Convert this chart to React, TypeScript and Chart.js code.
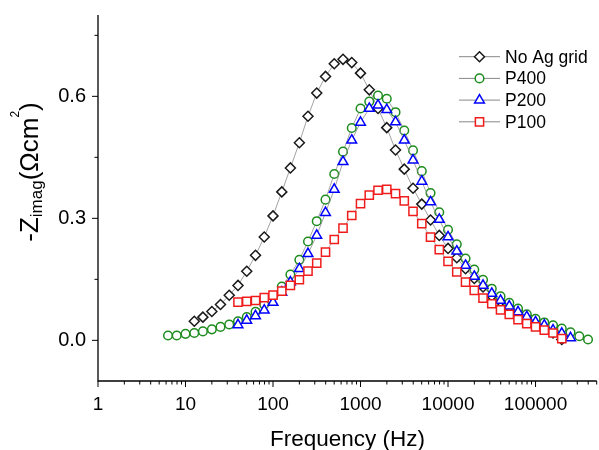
import React, { useEffect, useRef } from "react";
import { Chart, registerables } from "chart.js";
import { drawPoint } from "chart.js/helpers";

Chart.register(...registerables);

const FONT = '"Liberation Sans", Arial, sans-serif';

// Measurement frequencies (Hz), 10 points per decade
const freqHz = [
  6.31, 7.94, 10, 12.6, 15.8, 20.0, 25.1, 31.6, 39.8, 50.1, 63.1, 79.4,
  100, 126, 158, 200, 251, 316, 398, 501, 631, 794,
  1000, 1259, 1585, 1995, 2512, 3162, 3981, 5012, 6310, 7943,
  10000, 12589, 15849, 19953, 25119, 31623, 39811, 50119, 63096, 79433,
  100000, 125893, 158489, 199526, 251189, 316228, 398107,
];

// -Z_imag values (Ohm cm^2); each series starts at the given index of freqHz
const noAgGridStart = 3;
const noAgGrid = [
  0.047, 0.057, 0.071, 0.088, 0.111, 0.135, 0.17, 0.209, 0.254, 0.306,
  0.365, 0.424, 0.486, 0.551, 0.608, 0.649, 0.68, 0.691, 0.683, 0.657,
  0.616, 0.57, 0.523, 0.468, 0.421, 0.374, 0.335, 0.296, 0.258, 0.226,
  0.203, 0.176, 0.152, 0.131, 0.109, 0.095, 0.082, 0.07, 0.058, 0.047,
  0.035, 0.018, 0.002,
];

const p400Start = 0;
const p400 = [
  0.012, 0.012, 0.016, 0.018, 0.022, 0.027, 0.033, 0.039, 0.047, 0.057,
  0.07, 0.088, 0.108, 0.132, 0.162, 0.198, 0.243, 0.293, 0.346, 0.409,
  0.464, 0.522, 0.57, 0.587, 0.602, 0.594, 0.561, 0.516, 0.467, 0.416,
  0.362, 0.315, 0.272, 0.236, 0.201, 0.174, 0.149, 0.127, 0.108, 0.092,
  0.078, 0.064, 0.053, 0.044, 0.037, 0.029, 0.02, 0.01, 0.002,
];

const p200Start = 8;
const p200 = [
  0.038, 0.049, 0.06, 0.074, 0.093, 0.118, 0.143, 0.176, 0.213, 0.258,
  0.314, 0.371, 0.439, 0.492, 0.536, 0.57, 0.578, 0.567, 0.537, 0.492,
  0.443, 0.391, 0.34, 0.297, 0.254, 0.219, 0.184, 0.157, 0.135, 0.115,
  0.098, 0.084, 0.07, 0.058, 0.045, 0.037, 0.025, 0.017, 0.006,
];

const p100Start = 8;
const p100 = [
  0.094, 0.096, 0.098, 0.105, 0.111, 0.121, 0.135, 0.149, 0.17, 0.19,
  0.217, 0.248, 0.276, 0.307, 0.336, 0.357, 0.369, 0.371, 0.361, 0.343,
  0.317, 0.287, 0.254, 0.223, 0.194, 0.168, 0.143, 0.123, 0.104, 0.09,
  0.075, 0.064, 0.051, 0.041, 0.033, 0.025, 0.018, 0.004,
];

const seriesNames = ["No Ag grid", "P400", "P200", "P100"];
const xTickLabels = [1, 10, 100, 1000, 10000, 100000];
const yTickLabels = [0.0, 0.3, 0.6];
const yMinorTicks = [0.15, 0.45, 0.75];
const xTitle = "Frequency (Hz)";

function points(values: number[], start: number) {
  return values.map((v, i) => ({ x: freqHz[start + i], y: v }));
}

const decorPlugin = {
  id: "decor",
  afterDraw(chart: any) {
    const { ctx, chartArea: a, scales } = chart;
    const x = scales.x;
    const y = scales.y;
    ctx.save();
    // axis lines
    ctx.strokeStyle = "#000";
    ctx.lineWidth = 1.3;
    ctx.beginPath();
    ctx.moveTo(a.left, a.top);
    ctx.lineTo(a.left, a.bottom);
    ctx.lineTo(a.right, a.bottom);
    ctx.stroke();
    // ticks
    ctx.lineWidth = 1;
    ctx.beginPath();
    yTickLabels.forEach((v) => {
      const py = y.getPixelForValue(v);
      ctx.moveTo(a.left, py);
      ctx.lineTo(a.left - 6, py);
    });
    yMinorTicks.forEach((v) => {
      const py = y.getPixelForValue(v);
      ctx.moveTo(a.left, py);
      ctx.lineTo(a.left - 3.5, py);
    });
    for (let d = 1; d <= x.max; d *= 10) {
      for (let k = 1; k < 10; k++) {
        const v = d * k;
        if (v > x.max) break;
        const px = x.getPixelForValue(v);
        ctx.moveTo(px, a.bottom);
        ctx.lineTo(px, a.bottom + (k === 1 ? 6 : 3.5));
      }
    }
    ctx.stroke();

    // x title
    ctx.fillStyle = "#000";
    ctx.font = `22.5px ${FONT}`;
    ctx.textAlign = "center";
    ctx.textBaseline = "alphabetic";
    ctx.fillText(xTitle, 347.5, 446);

    // y title: -Z_imag(Ωcm^2)
    const big = `26px ${FONT}`;
    const sub = `17px ${FONT}`;
    const sup = `12px ${FONT}`;
    const parts: [string, string, number][] = [
      ["-Z", big, 0],
      ["imag", sub, 4],
      ["(Ωcm", big, 0],
      ["2", sup, -19],
      [")", big, 0],
    ];
    let total = 0;
    parts.forEach(([t, f]) => {
      ctx.font = f;
      total += ctx.measureText(t).width;
    });
    ctx.translate(38, 172);
    ctx.rotate(-Math.PI / 2);
    ctx.textAlign = "left";
    let cx = -total / 2;
    parts.forEach(([t, f, dy]) => {
      ctx.font = f;
      ctx.fillText(t, cx, dy);
      cx += ctx.measureText(t).width;
    });
    ctx.restore();

    // legend
    ctx.save();
    chart.data.datasets.forEach((ds: any, i: number) => {
      const ly = 56.7 + i * 21.7;
      ctx.strokeStyle = "#888";
      ctx.lineWidth = 1;
      ctx.beginPath();
      ctx.moveTo(459, ly);
      ctx.lineTo(500, ly);
      ctx.stroke();
      ctx.strokeStyle = ds.pointBorderColor;
      ctx.fillStyle = "#fff";
      ctx.lineWidth = ds.pointBorderWidth;
      drawPoint(ctx, { pointStyle: ds.pointStyle, radius: ds.pointRadius, borderWidth: ds.pointBorderWidth, rotation: 0 } as any, 479.5, ly);
      ctx.fillStyle = "#000";
      ctx.font = `17.5px ${FONT}`;
      ctx.textAlign = "left";
      ctx.textBaseline = "middle";
      ctx.fillText(seriesNames[i], 505, ly + 1);
    });
    ctx.restore();
  },
};

function makeDataset(label: string, values: number[], start: number, color: string, style: string, radius: number, order: number) {
  return {
    label,
    data: points(values, start),
    borderColor: "#8a8a8a",
    borderWidth: 0.8,
    pointStyle: style,
    pointRadius: radius,
    pointBorderColor: color,
    pointBackgroundColor: "#fff",
    pointBorderWidth: 1.5,
    fill: false,
    tension: 0,
    order,
  };
}

export default function App() {
  const ref = useRef<HTMLCanvasElement | null>(null);
  useEffect(() => {
    document.body.style.margin = "0";
    const canvas = ref.current!;
    const chart = new Chart(canvas, {
      type: "line",
      data: {
        datasets: [
          makeDataset(seriesNames[0], noAgGrid, noAgGridStart, "#1a1a1a", "rectRot", 5, 4),
          makeDataset(seriesNames[1], p400, p400Start, "#1e8c1e", "circle", 4.3, 3),
          makeDataset(seriesNames[2], p200, p200Start, "#0000ff", "triangle", 5.6, 2),
          makeDataset(seriesNames[3], p100, p100Start, "#f01c1c", "rect", 5.8, 1),
        ] as any,
      },
      options: {
        responsive: false,
        animation: false,
        events: [],
        layout: { padding: { top: 15, right: 1, left: 0, bottom: 0 } },
        plugins: { legend: { display: false }, tooltip: { enabled: false } },
        scales: {
          x: {
            type: "logarithmic",
            bounds: "data",
            min: 1,
            max: 500000,
            grid: { display: false, drawTicks: false },
            border: { display: false },
            ticks: {
              autoSkip: false,
              maxRotation: 0,
              padding: 12,
              color: "#000",
              font: { family: FONT, size: 19 },
              callback: (v: any) => String(v),
            },
            afterBuildTicks: (s: any) => {
              s.ticks = xTickLabels.map((v) => ({ value: v }));
            },
            afterFit: (s: any) => {
              s.height = 69;
              s.paddingLeft = 0;
              s.paddingRight = 0;
            },
          },
          y: {
            min: -0.1,
            max: 0.8,
            grid: { display: false, drawTicks: false },
            border: { display: false },
            ticks: {
              padding: 12,
              color: "#000",
              font: { family: FONT, size: 20 },
              callback: (v: any) => Number(v).toFixed(1),
            },
            afterBuildTicks: (s: any) => {
              s.ticks = yTickLabels.map((v) => ({ value: v }));
            },
            afterFit: (s: any) => {
              s.width = 98;
              s.paddingTop = 0;
              s.paddingBottom = 0;
            },
          },
        },
      } as any,
      plugins: [decorPlugin],
    });
    return () => chart.destroy();
  }, []);
  return (
    <div style={{ position: "fixed", left: 0, top: 0, width: 599, height: 450, overflow: "hidden" }}>
      <canvas ref={ref} width={604} height={450} style={{ display: "block" }} />
    </div>
  );
}
